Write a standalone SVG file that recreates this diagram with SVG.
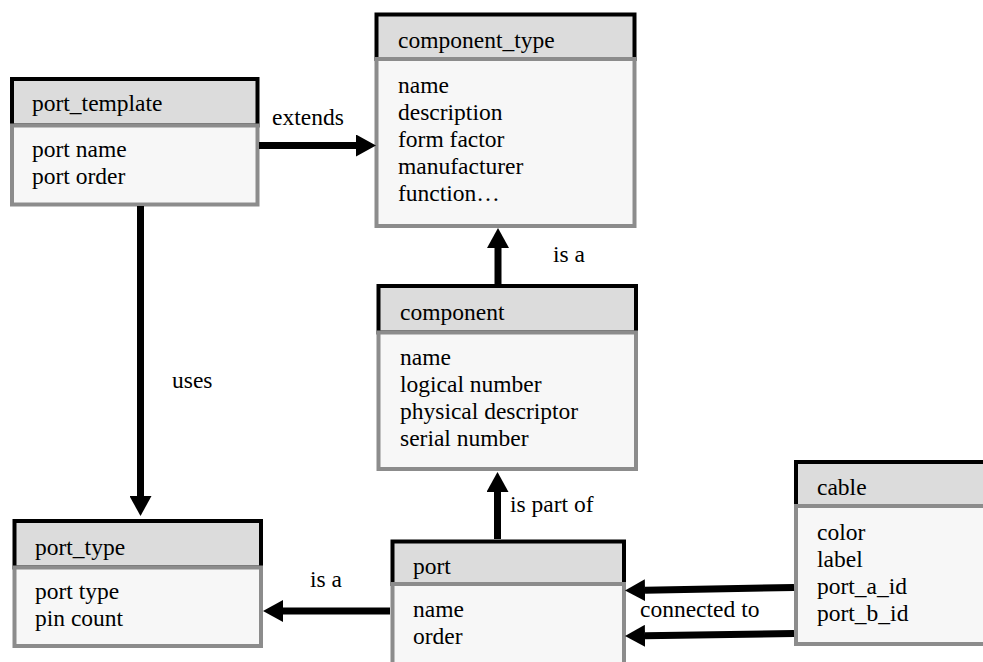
<svg xmlns="http://www.w3.org/2000/svg" width="983" height="662" viewBox="0 0 983 662">
  <style>
    .hdr { fill: #dcdcdc; stroke: #000000; stroke-width: 4; }
    .body { fill: #f7f7f7; stroke: #8c8c8c; stroke-width: 4; }
    text { font-family: 'Liberation Serif', 'Times New Roman', Times, serif; font-size: 23.5px; fill: #000000; }
    .conn { stroke: #000000; stroke-width: 7; fill: none; marker-end: url(#arrow); }
  </style>
  <defs>
    <marker id="arrow" markerUnits="userSpaceOnUse" viewBox="0 0 20 22" markerWidth="20" markerHeight="22" refX="0" refY="11" orient="auto">
      <path d="M0,0 L20,11 L0,22 Z" fill="#000000"/>
    </marker>
  </defs>
  <rect width="983" height="662" fill="#ffffff"/>

  <g id="component_type">
    <rect class="hdr" x="376.5" y="14.5" width="258" height="44.5"/>
    <rect class="body" x="376.5" y="59" width="258" height="167"/>
    <text x="398" y="48">component_type</text>
    <text x="398" y="93">name</text>
    <text x="398" y="120">description</text>
    <text x="398" y="147">form factor</text>
    <text x="398" y="174">manufacturer</text>
    <text x="398" y="201">function…</text>
  </g>

  <g id="port_template">
    <rect class="hdr" x="12" y="79" width="245.5" height="46.5"/>
    <rect class="body" x="12" y="125.5" width="245.5" height="79"/>
    <text x="32" y="111">port_template</text>
    <text x="32" y="157">port name</text>
    <text x="32" y="184">port order</text>
  </g>

  <g id="component">
    <rect class="hdr" x="378.5" y="286" width="257.5" height="46.5"/>
    <rect class="body" x="378.5" y="332.5" width="257.5" height="136.5"/>
    <text x="400" y="320">component</text>
    <text x="400" y="365">name</text>
    <text x="400" y="392">logical number</text>
    <text x="400" y="419">physical descriptor</text>
    <text x="400" y="446">serial number</text>
  </g>

  <g id="port_type">
    <rect class="hdr" x="14.5" y="521" width="246.5" height="46.5"/>
    <rect class="body" x="14.5" y="567.5" width="246.5" height="78.5"/>
    <text x="35" y="555">port_type</text>
    <text x="35" y="599">port type</text>
    <text x="35" y="626">pin count</text>
  </g>

  <g id="port">
    <rect class="hdr" x="392.5" y="541.5" width="231.5" height="42.5"/>
    <rect class="body" x="392.5" y="584" width="231.5" height="100"/>
    <text x="413" y="574">port</text>
    <text x="413" y="617">name</text>
    <text x="413" y="644">order</text>
  </g>

  <g id="cable">
    <rect class="hdr" x="796" y="462" width="220" height="44"/>
    <rect class="body" x="796" y="506" width="220" height="138"/>
    <text x="817" y="495">cable</text>
    <text x="817" y="540">color</text>
    <text x="817" y="567">label</text>
    <text x="817" y="594">port_a_id</text>
    <text x="817" y="621">port_b_id</text>
  </g>

  <g id="connectors">
    <line class="conn" x1="259" y1="145.5" x2="356" y2="145.5"/>
    <text x="272" y="125">extends</text>

    <line class="conn" x1="140.5" y1="206" x2="140.5" y2="496"/>
    <text x="172" y="388">uses</text>

    <line class="conn" x1="498" y1="284" x2="498" y2="248"/>
    <text x="553" y="262">is a</text>

    <line class="conn" x1="497.5" y1="539" x2="497.5" y2="492"/>
    <text x="510" y="512">is part of</text>

    <line class="conn" x1="390" y1="611" x2="283" y2="611"/>
    <text x="310" y="587">is a</text>

    <line class="conn" x1="794" y1="587.5" x2="645" y2="590.2"/>
    <line class="conn" x1="794" y1="633.5" x2="645" y2="635.8"/>
    <text x="640" y="617">connected to</text>
  </g>
</svg>
